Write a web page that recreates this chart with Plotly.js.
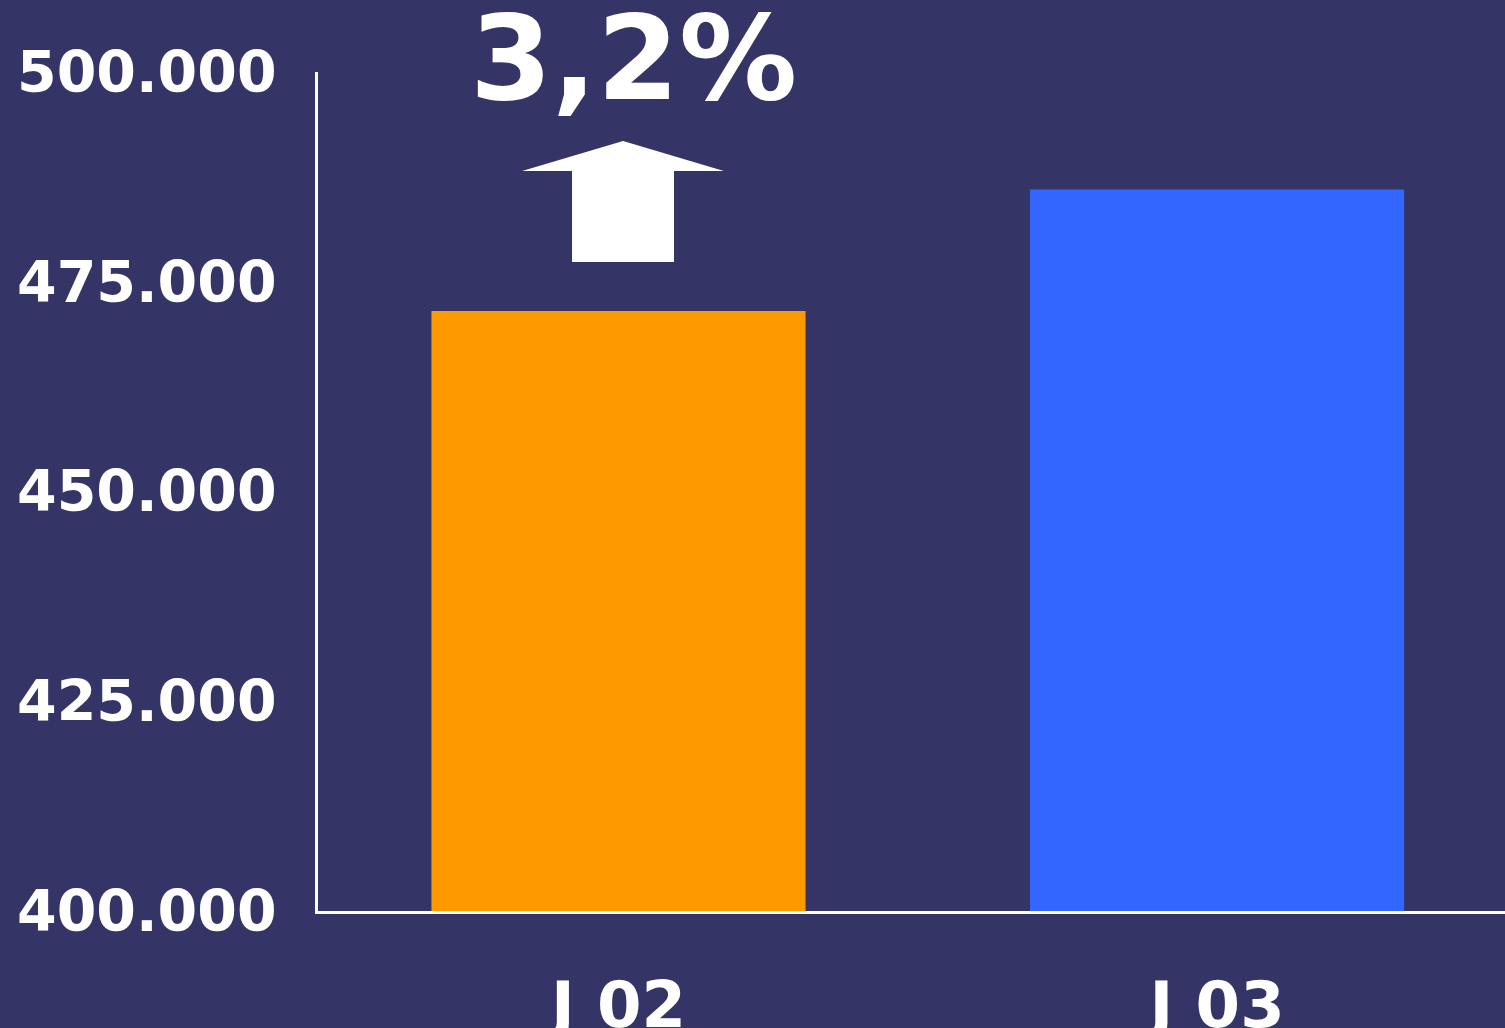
<!DOCTYPE html>
<html>
<head>
<meta charset="utf-8">
<script src="https://cdn.plot.ly/plotly-3.0.1.min.js"></script>
<style>
html,body{margin:0;padding:0;background:#343466;}
#chart{width:1505px;height:1028px;}
</style>
</head>
<body>
<div id="chart"></div>
<script>
const categories = ["J 02", "J 03"];
const values = [471500, 486000];
const barColors = ["#FF9900", "#3366FF"];
const changeLabel = "3,2%";
const tickValues = [400000, 425000, 450000, 475000, 500000];

const bg = "#343466";
const fontFamily = "DejaVu Sans, sans-serif";

const trace = {
  type: "bar",
  x: categories,
  y: values,
  width: 0.625,
  marker: {color: barColors, line: {width: 0}},
  hoverinfo: "skip"
};

const layout = {
  width: 1505,
  height: 1028,
  paper_bgcolor: bg,
  plot_bgcolor: bg,
  separators: ",.",
  margin: {l: 318, r: 0, t: 72, b: 117, pad: 0},
  showlegend: false,
  font: {family: fontFamily, color: "#FFFFFF", size: 56, weight: "bold"},
  xaxis: {
    type: "category",
    range: [-0.502, 1.481],
    showline: true,
    linecolor: "#FFFFFF",
    linewidth: 3,
    showgrid: false,
    zeroline: false,
    ticks: "outside",
    ticklen: 36,
    tickcolor: "rgba(0,0,0,0)",
    tickfont: {family: fontFamily, size: 64, color: "#FFFFFF", weight: "bold"},
    fixedrange: true
  },
  yaxis: {
    range: [400000, 500000],
    tickvals: tickValues,
    tickformat: ",d",
    showline: true,
    linecolor: "#FFFFFF",
    linewidth: 3,
    showgrid: false,
    zeroline: false,
    ticks: "outside",
    ticklen: 27,
    tickcolor: "rgba(0,0,0,0)",
    tickfont: {family: fontFamily, size: 57, color: "#FFFFFF", weight: "bold"},
    fixedrange: true
  },
  shapes: [{
    type: "path",
    xref: "paper",
    yref: "paper",
    path: "M 0.2140 0.7735 L 0.2140 0.8820 L 0.1719 0.8820 L 0.2570 0.9178 L 0.3420 0.8820 L 0.2999 0.8820 L 0.2999 0.7735 Z",
    fillcolor: "#FFFFFF",
    line: {width: 0}
  }],
  annotations: [{
    xref: "paper",
    yref: "paper",
    x: 0.2662,
    y: 1.0167,
    xanchor: "center",
    yanchor: "middle",
    text: changeLabel,
    showarrow: false,
    font: {family: fontFamily, size: 118, color: "#FFFFFF", weight: "bold"}
  }]
};

Plotly.newPlot("chart", [trace], layout, {displayModeBar: false, staticPlot: true});
</script>
</body>
</html>
